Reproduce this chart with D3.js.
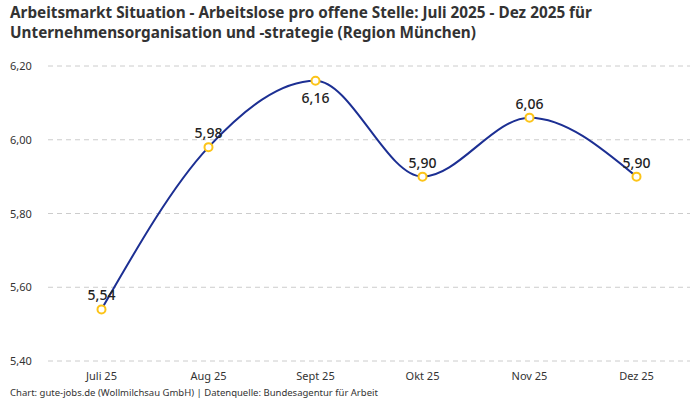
<!DOCTYPE html>
<html>
<head>
<meta charset="utf-8">
<script src="https://cdn.jsdelivr.net/npm/d3@7"></script>
<style>
  body { margin: 0; background: #fff; }
  svg { display: block; font-family: "Noto Sans", sans-serif; }
</style>
</head>
<body>
<div id="viz"></div>
<script>
document.addEventListener("DOMContentLoaded", () => {

    // data
    const months = ["Juli 25", "Aug 25", "Sept 25", "Okt 25", "Nov 25", "Dez 25"]
    const values = [5.54, 5.98, 6.16, 5.90, 6.06, 5.90]
    const yTicks = [5.40, 5.60, 5.80, 6.00, 6.20]
    const titleLines = [
        "Arbeitsmarkt Situation - Arbeitslose pro offene Stelle: Juli 2025 - Dez 2025 für",
        "Unternehmensorganisation und -strategie (Region München)"
    ]
    const source = "Chart: gute-jobs.de (Wollmilchsau GmbH) | Datenquelle: Bundesagentur für Arbeit"

    const width = 700
    const height = 400
    const left = 48, right = 690, top = 66, bottom = 361

    const svg = d3.select("#viz").append("svg")
        .attr("width", width)
        .attr("height", height)

    const fmt = v => d3.format(".2f")(v).replace(".", ",")

    const x = d3.scaleBand().domain(months).range([left, right])
    const y = d3.scaleLinear().domain([5.40, 6.20]).range([bottom, top])

    // title
    svg.append("g").selectAll("text")
        .data(titleLines)
        .join("text")
        .attr("x", 10)
        .attr("y", (d, i) => 18 + i * 20)
        .attr("font-size", 15.3)
        .attr("font-weight", "bold")
        .attr("fill", "#333")
        .text(d => d)

    // gridlines
    svg.append("g").selectAll("line")
        .data(yTicks)
        .join("line")
        .attr("x1", left)
        .attr("x2", right)
        .attr("y1", d => y(d))
        .attr("y2", d => y(d))
        .attr("stroke", "#ccc")
        .attr("stroke-dasharray", "5,4")

    // y tick labels
    svg.append("g").selectAll("text")
        .data(yTicks)
        .join("text")
        .attr("x", 10)
        .attr("y", d => y(d) + 4)
        .attr("font-size", 11)
        .attr("fill", "#333")
        .text(d => fmt(d))

    // x labels
    svg.append("g").selectAll("text")
        .data(months)
        .join("text")
        .attr("x", d => x(d) + x.bandwidth() / 2)
        .attr("y", 380)
        .attr("text-anchor", "middle")
        .attr("font-size", 11)
        .attr("fill", "#333")
        .text(d => d)

    // line
    const line = d3.line()
        .x((d, i) => x(months[i]) + x.bandwidth() / 2)
        .y(d => y(d))
        .curve(d3.curveMonotoneX)

    svg.append("path")
        .datum(values)
        .attr("d", line)
        .attr("fill", "none")
        .attr("stroke", "#1c2f93")
        .attr("stroke-width", 2)

    // points
    svg.append("g").selectAll("circle")
        .data(values)
        .join("circle")
        .attr("cx", (d, i) => x(months[i]) + x.bandwidth() / 2)
        .attr("cy", d => y(d))
        .attr("r", 4)
        .attr("fill", "#fff")
        .attr("stroke", "#fcc419")
        .attr("stroke-width", 2)

    // value labels (the max goes below its point)
    const maxV = d3.max(values)
    svg.append("g").selectAll("text")
        .data(values)
        .join("text")
        .attr("x", (d, i) => x(months[i]) + x.bandwidth() / 2)
        .attr("y", d => d === maxV ? y(d) + 22 : y(d) - 9)
        .attr("text-anchor", "middle")
        .attr("font-size", 14)
        .attr("font-weight", 500)
        .attr("fill", "#222")
        .text(d => fmt(d))

    // source
    svg.append("text")
        .attr("x", 10)
        .attr("y", 396)
        .attr("font-size", 9.5)
        .attr("fill", "#333")
        .text(source)

})
</script>
</body>
</html>
